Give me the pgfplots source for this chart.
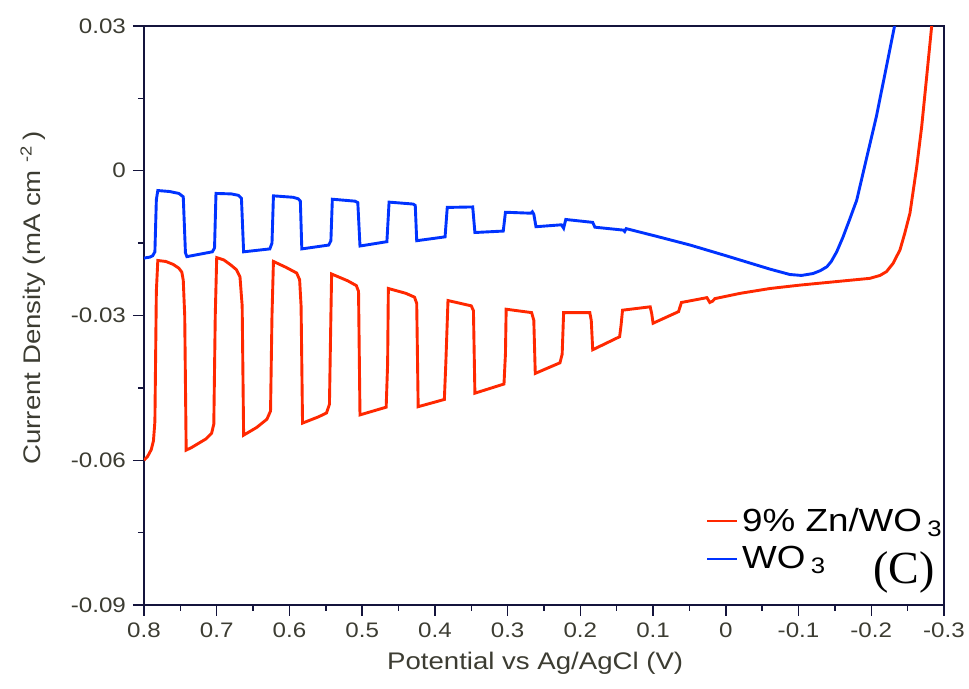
\documentclass[border=0pt]{standalone}
\usepackage{fontspec}
\setmainfont{Liberation Sans}[FakeStretch=1.15]
\newfontfamily\seriffont{Liberation Serif}
\usepackage{pgfplots}
\pgfplotsset{compat=1.18}

\definecolor{zncol}{RGB}{255,40,0}
\definecolor{wocol}{RGB}{0,51,255}
\definecolor{txtgray}{RGB}{60,60,50}
\definecolor{axnavy}{RGB}{20,20,60}

\begin{document}
\begin{tikzpicture}
\begin{axis}[
    scale only axis=true,
    width=400pt, height=289.5pt,
    x dir=reverse,
    xmin=-0.3, xmax=0.8,
    ymin=-0.09, ymax=0.03,
    scaled x ticks=false, scaled y ticks=false,
    xtick={-0.3,-0.2,-0.1,0,0.1,0.2,0.3,0.4,0.5,0.6,0.7,0.8},
    xticklabels={-0.3,-0.2,-0.1,0,0.1,0.2,0.3,0.4,0.5,0.6,0.7,0.8},
    ytick={-0.09,-0.06,-0.03,0,0.03},
    yticklabels={-0.09,-0.06,-0.03,0,0.03},
    minor x tick num=1, minor y tick num=1,
    tick pos=left, tick align=outside,
    major tick length=5.5pt, minor tick length=3pt,
    tick style={draw=axnavy, line width=0.7pt},
    axis line style={draw=axnavy, line width=0.8pt},
    ticklabel style={font=\fontsize{10.5}{12}\selectfont, text=txtgray},
    xlabel={Potential vs Ag/AgCl (V)},
    ylabel={Current Density (mA cm\ \textsuperscript{-2}\,)},
    label style={font=\fontsize{12}{14}\selectfont, text=txtgray},
    x label style={at={(axis description cs:0.489,-0.100)}, anchor=center},
    y label style={at={(axis description cs:-0.139,0.53)}, anchor=center},
    legend style={at={(axis description cs:0.702,0.175)}, anchor=north west,
        draw=none, fill=none, font=\fontsize{16}{19}\selectfont,
        row sep=2pt, inner sep=0pt},
    legend cell align=left,
    legend image code/.code={\draw[#1, line width=1.1pt] (0pt,0pt) -- (15pt,0pt);},
]
% 9% Zn/WO3
\addplot[color=zncol, line width=1.45pt] coordinates {
(0.800,-0.0600) (0.795,-0.0592) (0.790,-0.0578) (0.787,-0.0560) (0.785,-0.0520)
(0.783,-0.0250) (0.781,-0.0186) (0.770,-0.0188) (0.760,-0.0194) (0.752,-0.0202)
(0.748,-0.0210) (0.746,-0.0227) (0.744,-0.0300) (0.742,-0.0579) (0.735,-0.0574)
(0.725,-0.0565) (0.715,-0.0556) (0.707,-0.0544) (0.704,-0.0525) (0.702,-0.0300)
(0.700,-0.0180) (0.690,-0.0185) (0.680,-0.0196) (0.673,-0.0205) (0.668,-0.0220)
(0.665,-0.0280) (0.663,-0.0548) (0.645,-0.0532) (0.631,-0.0515) (0.626,-0.0498)
(0.624,-0.0300) (0.622,-0.0188) (0.605,-0.0200) (0.590,-0.0212) (0.586,-0.0226)
(0.584,-0.0280) (0.582,-0.0523) (0.560,-0.0510) (0.549,-0.0502) (0.545,-0.0484)
(0.543,-0.0300) (0.542,-0.0214) (0.520,-0.0228) (0.508,-0.0238) (0.505,-0.0250)
(0.503,-0.0506) (0.467,-0.0490) (0.465,-0.0400) (0.464,-0.0244) (0.440,-0.0254)
(0.428,-0.0262) (0.425,-0.0275) (0.423,-0.0489) (0.387,-0.0474) (0.385,-0.0400)
(0.382,-0.0269) (0.350,-0.0280) (0.347,-0.0290) (0.345,-0.0461) (0.305,-0.0442)
(0.303,-0.0380) (0.302,-0.0287) (0.267,-0.0294) (0.264,-0.0310) (0.262,-0.0420)
(0.228,-0.0398) (0.225,-0.0380) (0.223,-0.0294) (0.187,-0.0294) (0.185,-0.0310)
(0.183,-0.0371) (0.146,-0.0344) (0.144,-0.0320) (0.142,-0.0289) (0.104,-0.0282)
(0.102,-0.0295) (0.100,-0.0316) (0.065,-0.0292) (0.061,-0.0273) (0.026,-0.0263)
(0.022,-0.0273) (0.018,-0.0270) (0.015,-0.0265) (-0.020,-0.0254) (-0.061,-0.0244)
(-0.102,-0.0237) (-0.150,-0.0230) (-0.198,-0.0223) (-0.212,-0.0217) (-0.221,-0.0209)
(-0.230,-0.0192) (-0.2395,-0.0164) (-0.246,-0.0130) (-0.2532,-0.0088) (-0.2625,0.0008)
(-0.2693,0.0091) (-0.2762,0.0195) (-0.2831,0.0300)
};
\addlegendentry{9\% Zn/WO\,\textsubscript{3}}
% WO3
\addplot[color=wocol, line width=1.45pt] coordinates {
(0.800,-0.0181) (0.792,-0.0179) (0.788,-0.0176) (0.785,-0.0168) (0.783,-0.0060)
(0.781,-0.0041) (0.765,-0.0043) (0.752,-0.0047) (0.746,-0.0054) (0.743,-0.0170)
(0.741,-0.0178) (0.706,-0.0168) (0.703,-0.0160) (0.701,-0.0047) (0.680,-0.0048)
(0.670,-0.0051) (0.666,-0.0057) (0.663,-0.0168) (0.627,-0.0162) (0.624,-0.0150)
(0.622,-0.0052) (0.595,-0.0055) (0.588,-0.0058) (0.585,-0.0063) (0.583,-0.0162)
(0.546,-0.0154) (0.543,-0.0145) (0.541,-0.0059) (0.510,-0.0063) (0.506,-0.0066)
(0.503,-0.0156) (0.466,-0.0147) (0.463,-0.0065) (0.430,-0.0069) (0.427,-0.0072)
(0.425,-0.0145) (0.386,-0.0137) (0.383,-0.0076) (0.348,-0.0075) (0.345,-0.0128)
(0.306,-0.0125) (0.303,-0.0086) (0.268,-0.0088) (0.266,-0.0085) (0.264,-0.0090)
(0.261,-0.0116) (0.226,-0.0112) (0.223,-0.0119) (0.220,-0.0101) (0.183,-0.0107)
(0.180,-0.0117) (0.141,-0.0123) (0.139,-0.0126) (0.137,-0.0120) (0.100,-0.0134)
(0.049,-0.0154) (0.000,-0.0176) (-0.061,-0.0204) (-0.088,-0.0215) (-0.104,-0.0217)
(-0.120,-0.0213) (-0.130,-0.0207) (-0.139,-0.0199) (-0.145,-0.0188) (-0.1525,-0.0168)
(-0.161,-0.0138) (-0.170,-0.0102) (-0.180,-0.0061) (-0.194,0.0029) (-0.207,0.0112)
(-0.219,0.0202) (-0.232,0.0300)
};
\addlegendentry{WO\,\textsubscript{3}}
\node[font=\seriffont\fontsize{23}{25}\selectfont, anchor=center]
    at (axis description cs:0.95,0.057) {(C)};
\end{axis}
\pgfresetboundingbox
\path (-72pt,-42pt) rectangle (412.5pt,302.5pt);
\end{tikzpicture}
\end{document}
